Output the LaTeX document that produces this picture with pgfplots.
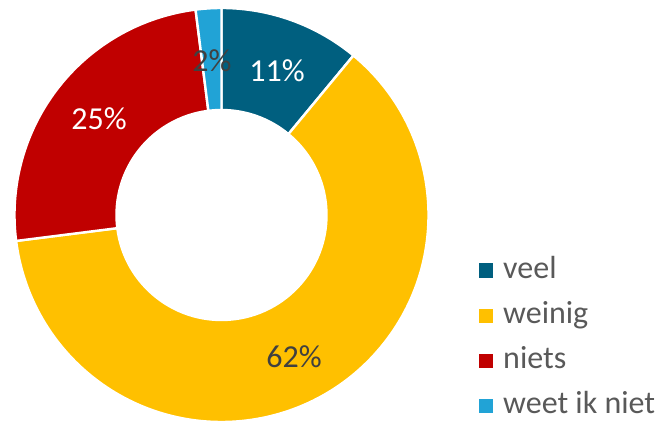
\documentclass[border=0pt]{standalone}
\usepackage{pgfplots}
\usepackage{pgfplotstable}
\pgfplotsset{compat=1.18}
\usepackage{fontspec}
\setmainfont{Carlito}

\definecolor{cveel}{HTML}{005F7F}
\definecolor{cweinig}{HTML}{FFC000}
\definecolor{cniets}{HTML}{C00000}
\definecolor{cweet}{HTML}{21A3D6}
\definecolor{txtdark}{HTML}{404040}
\definecolor{txtgray}{HTML}{595959}

% aandeel per antwoord (%)
\pgfplotstableread[col sep=comma]{
label,value
veel,11
weinig,62
niets,25
weet ik niet,2
}\shares

% ring segment: #1 start, #2 eind, #3 kleur  (centrum 221.5,207; R=207, r=105)
\newcommand\slice[3]{%
  \fill[#3, draw=white, line width=1.2pt]
    (axis cs:{221.5+207*cos(#1)},{207+207*sin(#1)})
    arc[start angle=#1, end angle=#2, radius=103.5pt]
    -- (axis cs:{221.5+105*cos(#2)},{207+105*sin(#2)})
    arc[start angle=#2, end angle=#1, radius=52.5pt] -- cycle;}

\begin{document}%
\pgfplotstablegetelem{0}{value}\of\shares \let\va\pgfplotsretval%
\pgfplotstablegetelem{1}{value}\of\shares \let\vb\pgfplotsretval%
\pgfplotstablegetelem{2}{value}\of\shares \let\vc\pgfplotsretval%
\pgfplotstablegetelem{3}{value}\of\shares \let\vd\pgfplotsretval%
% hoeken, start bovenaan, met de klok mee
\pgfmathsetmacro\aA{90}%
\pgfmathsetmacro\aB{\aA-3.6*\va}%
\pgfmathsetmacro\aC{\aB-3.6*\vb}%
\pgfmathsetmacro\aD{\aC-3.6*\vc}%
\pgfmathsetmacro\aE{\aD-3.6*\vd}%
\begin{tikzpicture}
\begin{axis}[
    x=0.5pt, y=0.5pt,
    xmin=0, xmax=656, ymin=0, ymax=422,
    scale only axis, hide axis, clip=false,
    disabledatascaling,
    legend image code/.code={\fill[#1] (0pt,-3.25pt) rectangle (6.5pt,3.25pt);},
    legend style={draw=none, fill=none, inner sep=0pt,
        at={(axis cs:479,166)}, anchor=north west,
        font=\fontsize{16}{19}\selectfont, text=txtgray,
        nodes={inner sep=0pt, text height=11pt, text depth=3pt},
        row sep=8.5pt,
        /tikz/every odd column/.append style={column sep=5pt}},
    legend cell align=left,
  ]
  \slice{\aA}{\aB}{cveel}
  \slice{\aB}{\aC}{cweinig}
  \slice{\aC}{\aD}{cniets}
  \slice{\aD}{\aE}{cweet}

  \node[anchor=base, text=white, font=\fontsize{16}{19}\selectfont] at (axis cs:277,340) {11\%};
  \node[anchor=base, text=txtdark, font=\fontsize{16}{19}\selectfont] at (axis cs:294,55) {62\%};
  \node[anchor=base, text=white, font=\fontsize{16}{19}\selectfont] at (axis cs:99,292) {25\%};
  \node[anchor=base, text=txtdark, font=\fontsize{16}{19}\selectfont] at (axis cs:212,350) {2\%};

  \addlegendimage{cveel}\addlegendentry{veel}
  \addlegendimage{cweinig}\addlegendentry{weinig}
  \addlegendimage{cniets}\addlegendentry{niets}
  \addlegendimage{cweet}\addlegendentry{weet ik niet}
\end{axis}
\pgfresetboundingbox
\path (current axis.south west) rectangle (current axis.north east);
\end{tikzpicture}%
\end{document}
